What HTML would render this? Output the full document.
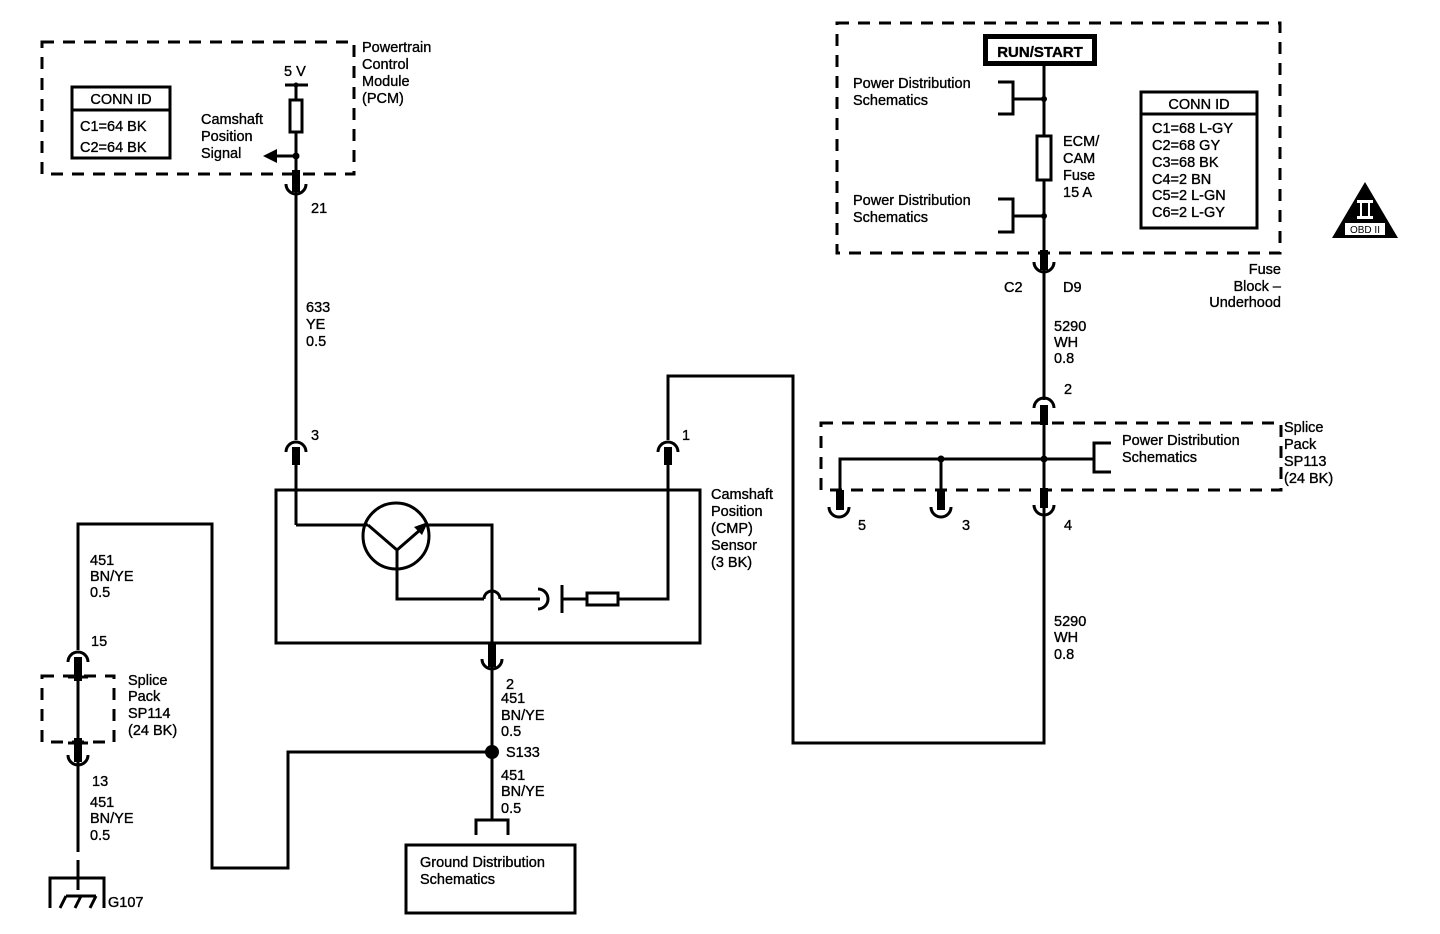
<!DOCTYPE html>
<html><head><meta charset="utf-8"><style>
html,body{margin:0;padding:0;background:#fff}
svg{display:block}
text{font-family:"Liberation Sans",Arial,sans-serif;font-size:14.5px;fill:#000;stroke:#000;stroke-width:0.35}
</style></head><body>
<svg width="1440" height="934" viewBox="0 0 1440 934" xmlns="http://www.w3.org/2000/svg">
<g fill="none" stroke="#000" stroke-width="3">
<rect x="42" y="42" width="312" height="132" stroke-dasharray="12,9"/>
<rect x="837" y="23" width="443" height="230" stroke-dasharray="12,9"/>
<rect x="821" y="423" width="460" height="67" stroke-dasharray="12,9"/>
<rect x="42" y="676" width="72" height="66" stroke-dasharray="12,9"/>
<rect x="72" y="87" width="98" height="71"/>
<line x1="72" y1="110" x2="170" y2="110"/>
<line x1="285" y1="85" x2="308" y2="85"/>
<line x1="296" y1="85" x2="296" y2="440"/>
<rect x="290" y="100" width="12" height="32" fill="#fff"/>
<line x1="296" y1="156" x2="276" y2="156"/>
<rect x="276" y="490" width="424" height="153"/>
<line x1="296" y1="460" x2="296" y2="525"/>
<line x1="296" y1="525" x2="368" y2="525"/>
<circle cx="396" cy="536" r="33"/>
<polyline points="368,525 397,550 420,530"/>
<polyline points="425,525 492,525 492,665"/>
<polyline points="397,550 397,599 484,599"/>
<path d="M484,599 A8,8 0 0 1 500,599"/>
<line x1="500" y1="599" x2="540" y2="599"/>
<path d="M538,589 A10,10 0 0 1 538,609"/>
<line x1="562" y1="585" x2="562" y2="613"/>
<line x1="562" y1="599" x2="587" y2="599"/>
<rect x="587" y="593" width="31" height="12"/>
<polyline points="618,599 668,599 668,460"/>
<polyline points="668,440 668,376 793,376 793,743 1044,743 1044,520"/>
<polyline points="492,665 492,820"/>
<polyline points="492,752 288,752 288,868 212,868 212,524 78,524 78,650"/>
<line x1="78" y1="657" x2="78" y2="840"/>
<line x1="78" y1="840" x2="78" y2="878" stroke-dasharray="12,8"/>
<polyline points="476,835 476,820 508,820 508,835"/>
<rect x="406" y="845" width="169" height="68"/>
<polyline points="50,908 50,878 104,878 104,908"/>
<line x1="78" y1="868" x2="78" y2="890"/>
<line x1="60" y1="908" x2="66" y2="896"/><line x1="75" y1="908" x2="81" y2="896"/><line x1="90" y1="908" x2="96" y2="896"/>
<line x1="66" y1="896" x2="96" y2="896"/>
<line x1="68" y1="677" x2="88" y2="677"/><line x1="68" y1="743" x2="88" y2="743"/>
<line x1="1044" y1="66" x2="1044" y2="400"/>
<rect x="1037" y="136" width="14" height="44" fill="#fff"/>
<polyline points="998,82 1013,82 1013,114 998,114"/><line x1="1013" y1="99" x2="1044" y2="99"/>
<polyline points="998,199 1013,199 1013,232 998,232"/><line x1="1013" y1="216" x2="1044" y2="216"/>
<rect x="1141" y="92" width="116" height="136"/>
<line x1="1141" y1="114" x2="1257" y2="114"/>
<line x1="1044" y1="405" x2="1044" y2="520"/>
<polyline points="1094,459 840,459 840,510"/>
<line x1="941" y1="459" x2="941" y2="510"/>
<polyline points="1111,443 1094,443 1094,472 1111,472"/>
<path d="M286,452 A10,10 0 0 1 306,452"/>
<path d="M658,452 A10,10 0 0 1 678,452"/>
<path d="M68,662 A10,10 0 0 1 88,662"/>
<path d="M1034,408 A10,10 0 0 1 1054,408"/>
<path d="M286,184 A10,10 0 0 0 306,184"/>
<path d="M482,659 A10,10 0 0 0 502,659"/>
<path d="M68,755 A10,10 0 0 0 88,755"/>
<path d="M1034,262 A10,10 0 0 0 1054,262"/>
<path d="M829,507 A10,10 0 0 0 849,507"/>
<path d="M931,507 A10,10 0 0 0 951,507"/>
<path d="M1034,505 A10,10 0 0 0 1054,505"/>
</g>
<g fill="#000">
<rect x="292" y="170" width="8" height="22"/>
<rect x="292" y="447" width="8" height="18"/>
<rect x="664" y="447" width="8" height="18"/>
<rect x="488" y="643" width="8" height="24"/>
<rect x="74" y="657" width="8" height="24"/>
<rect x="74" y="738" width="8" height="24"/>
<rect x="1040" y="250" width="8" height="20"/>
<rect x="1040" y="405" width="8" height="20"/>
<rect x="1040" y="488" width="8" height="20"/>
<rect x="836" y="490" width="8" height="20"/>
<rect x="937" y="490" width="8" height="20"/>
<circle cx="296" cy="85" r="2.5"/><circle cx="296" cy="156" r="3.5"/>
<polygon points="263,156 277,149 277,163"/>
<polygon points="428,522 414,527 422,535"/>
<circle cx="492" cy="752" r="7"/>
<circle cx="1044" cy="99" r="3"/><circle cx="1044" cy="216" r="3"/>
<circle cx="941" cy="459" r="3.5"/><circle cx="1044" cy="459" r="3.5"/>
<rect x="983" y="34" width="114" height="32"/>
<polygon points="1365,182 1332,238 1398,238"/>
</g>
<rect x="988" y="39" width="104" height="22" fill="#fff"/>
<rect x="1360" y="201" width="10" height="18" fill="#fff"/>
<rect x="1357" y="200" width="16" height="3" fill="#fff"/>
<rect x="1357" y="216" width="16" height="3" fill="#fff"/>
<rect x="1345" y="223" width="40" height="12" fill="#fff"/>
<rect x="1362" y="203" width="6" height="13" fill="#000"/>
<text x="1365" y="233" text-anchor="middle" style="font-size:10px;stroke-width:0">OBD II</text>
<text x="1040" y="57" text-anchor="middle" style="font-weight:bold;font-size:15px">RUN/START</text>
<text x="121" y="104" text-anchor="middle">CONN ID</text>
<text x="80" y="131">C1=64 BK</text><text x="80" y="152">C2=64 BK</text>
<text x="284" y="76">5 V</text>
<text x="362" y="52">Powertrain</text><text x="362" y="69">Control</text><text x="362" y="86">Module</text><text x="362" y="103">(PCM)</text>
<text x="201" y="124">Camshaft</text><text x="201" y="141">Position</text><text x="201" y="158">Signal</text>
<text x="311" y="213">21</text>
<text x="306" y="312">633</text><text x="306" y="329">YE</text><text x="306" y="346">0.5</text>
<text x="311" y="440">3</text><text x="682" y="440">1</text>
<text x="711" y="499">Camshaft</text><text x="711" y="516">Position</text><text x="711" y="533">(CMP)</text><text x="711" y="550">Sensor</text><text x="711" y="567">(3 BK)</text>
<text x="506" y="689">2</text>
<text x="501" y="703">451</text><text x="501" y="720">BN/YE</text><text x="501" y="736">0.5</text>
<text x="506" y="757">S133</text>
<text x="501" y="780">451</text><text x="501" y="796">BN/YE</text><text x="501" y="813">0.5</text>
<text x="420" y="867">Ground Distribution</text><text x="420" y="884">Schematics</text>
<text x="90" y="565">451</text><text x="90" y="581">BN/YE</text><text x="90" y="597">0.5</text>
<text x="91" y="646">15</text>
<text x="128" y="685">Splice</text><text x="128" y="701">Pack</text><text x="128" y="718">SP114</text><text x="128" y="735">(24 BK)</text>
<text x="92" y="786">13</text>
<text x="90" y="807">451</text><text x="90" y="823">BN/YE</text><text x="90" y="840">0.5</text>
<text x="108" y="907">G107</text>
<text x="853" y="88">Power Distribution</text><text x="853" y="105">Schematics</text>
<text x="853" y="205">Power Distribution</text><text x="853" y="222">Schematics</text>
<text x="1063" y="146">ECM/</text><text x="1063" y="163">CAM</text><text x="1063" y="180">Fuse</text><text x="1063" y="197">15 A</text>
<text x="1199" y="109" text-anchor="middle">CONN ID</text>
<text x="1152" y="133">C1=68 L-GY</text><text x="1152" y="150">C2=68 GY</text><text x="1152" y="167">C3=68 BK</text><text x="1152" y="184">C4=2 BN</text><text x="1152" y="200">C5=2 L-GN</text><text x="1152" y="217">C6=2 L-GY</text>
<text x="1281" y="274" text-anchor="end">Fuse</text><text x="1281" y="291" text-anchor="end">Block –</text><text x="1281" y="307" text-anchor="end">Underhood</text>
<text x="1004" y="292">C2</text><text x="1063" y="292">D9</text>
<text x="1054" y="331">5290</text><text x="1054" y="347">WH</text><text x="1054" y="363">0.8</text>
<text x="1064" y="394">2</text>
<text x="1122" y="445">Power Distribution</text><text x="1122" y="462">Schematics</text>
<text x="1284" y="432">Splice</text><text x="1284" y="449">Pack</text><text x="1284" y="466">SP113</text><text x="1284" y="483">(24 BK)</text>
<text x="858" y="530">5</text><text x="962" y="530">3</text><text x="1064" y="530">4</text>
<text x="1054" y="626">5290</text><text x="1054" y="642">WH</text><text x="1054" y="659">0.8</text>
</svg>
</body></html>
